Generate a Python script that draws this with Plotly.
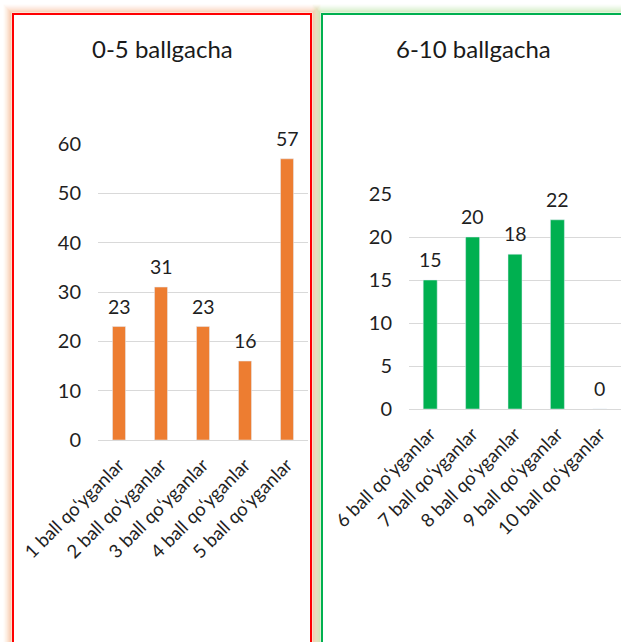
import plotly.graph_objects as go

W, H = 621, 642

left_cats = ["1 ball qo‘yganlar", "2 ball qo‘yganlar", "3 ball qo‘yganlar",
             "4 ball qo‘yganlar", "5 ball qo‘yganlar"]
left_vals = [23, 31, 23, 16, 57]
right_cats = ["6 ball qo‘yganlar", "7 ball qo‘yganlar", "8 ball qo‘yganlar",
              "9 ball qo‘yganlar", "10 ball qo‘yganlar"]
right_vals = [15, 20, 18, 22, 0]
left_title = "0-5 ballgacha"
right_title = "6-10 ballgacha"

ORANGE = "#ED7D31"
GREEN = "#00B050"
TXT = "#1f1f1f"
GRID = "#D9D9D9"
FONT = "Lato"


def px(x):
    return x / W


def py(y):
    return 1 - y / H


def left_path(o):
    return f"M {px(13 - o)},0 L {px(13 - o)},{py(14 - o)} L {px(311 + o)},{py(14 - o)} L {px(311 + o)},0"


def right_path(o):
    return f"M {px(322 - o)},0 L {px(322 - o)},{py(14 - o)} L 1,{py(14 - o)}"


fig = go.Figure()
fig.add_trace(go.Bar(x=left_cats, y=left_vals, marker_color=ORANGE, width=0.31,
                     xaxis="x", yaxis="y", hoverinfo="skip"))
fig.add_trace(go.Bar(x=right_cats, y=right_vals, marker_color=GREEN, width=0.33,
                     xaxis="x2", yaxis="y2", hoverinfo="skip"))

annotations = []
for c, v in zip(left_cats, left_vals):
    annotations.append(dict(x=c, y=v, xref="x", yref="y", text=str(v), showarrow=False,
                            yanchor="bottom", yshift=7,
                            font=dict(family=FONT, size=19.5, color=TXT)))
for c, v in zip(right_cats, right_vals):
    annotations.append(dict(x=c, y=v, xref="x2", yref="y2", text=str(v), showarrow=False,
                            yanchor="bottom", yshift=7,
                            font=dict(family=FONT, size=19.5, color=TXT)))
annotations.append(dict(x=px(162), y=py(49), xref="paper", yref="paper", text=left_title,
                        showarrow=False, xanchor="center", yanchor="middle",
                        font=dict(family=FONT, size=24, color="#1a1a1a")))
annotations.append(dict(x=px(473), y=py(49), xref="paper", yref="paper", text=right_title,
                        showarrow=False, xanchor="center", yanchor="middle",
                        font=dict(family=FONT, size=24, color="#1a1a1a")))

shapes = []
for i, a in enumerate([0.6, 0.5, 0.4, 0.3, 0.22, 0.15, 0.09, 0.05]):
    o = i + 2
    shapes.append(dict(type="path", xref="paper", yref="paper", layer="below",
                       path=left_path(o), line=dict(color=f"rgba(244,170,120,{a})", width=1.2)))
    shapes.append(dict(type="path", xref="paper", yref="paper", layer="below",
                       path=right_path(o), line=dict(color=f"rgba(170,220,140,{a})", width=1.2)))
shapes.append(dict(type="path", xref="paper", yref="paper", layer="below",
                   path=left_path(0), line=dict(color="#FF0000", width=2)))
shapes.append(dict(type="path", xref="paper", yref="paper", layer="below",
                   path=right_path(0), line=dict(color="#00B050", width=2)))

fig.update_layout(
    width=W, height=H, margin=dict(l=0, r=0, t=0, b=0, autoexpand=False),
    paper_bgcolor="white", plot_bgcolor="rgba(0,0,0,0)",
    showlegend=False,
    annotations=annotations, shapes=shapes,
    xaxis=dict(domain=[px(98), px(308)], range=[-0.5, 4.5], tickangle=-45,
               showgrid=False, ticklabelstandoff=6, automargin=False,
               tickfont=dict(family=FONT, size=18.5, color=TXT), anchor="y",
               showline=True, linecolor=GRID, linewidth=1, ticks="", zeroline=False),
    yaxis=dict(domain=[py(440), py(144)], range=[0, 60], dtick=10, showgrid=True,
               gridcolor=GRID, gridwidth=1, ticklabelstandoff=16, automargin=False,
               tickfont=dict(family=FONT, size=20, color=TXT), anchor="x",
               ticks="", zeroline=False),
    xaxis2=dict(domain=[px(409), 1.0], range=[-0.5, 4.5], tickangle=-45,
                showgrid=False, ticklabelstandoff=6, automargin=False,
                tickfont=dict(family=FONT, size=18.5, color=TXT), anchor="y2",
                showline=True, linecolor=GRID, linewidth=1, ticks="", zeroline=False),
    yaxis2=dict(domain=[py(409), py(194)], range=[0, 25], dtick=5, showgrid=True,
                gridcolor=GRID, gridwidth=1, ticklabelstandoff=16, automargin=False,
                tickfont=dict(family=FONT, size=20, color=TXT), anchor="x2",
                ticks="", zeroline=False),
)

fig.write_html("out.html", config={"displayModeBar": False},
               post_script="document.body.style.margin='0';")
